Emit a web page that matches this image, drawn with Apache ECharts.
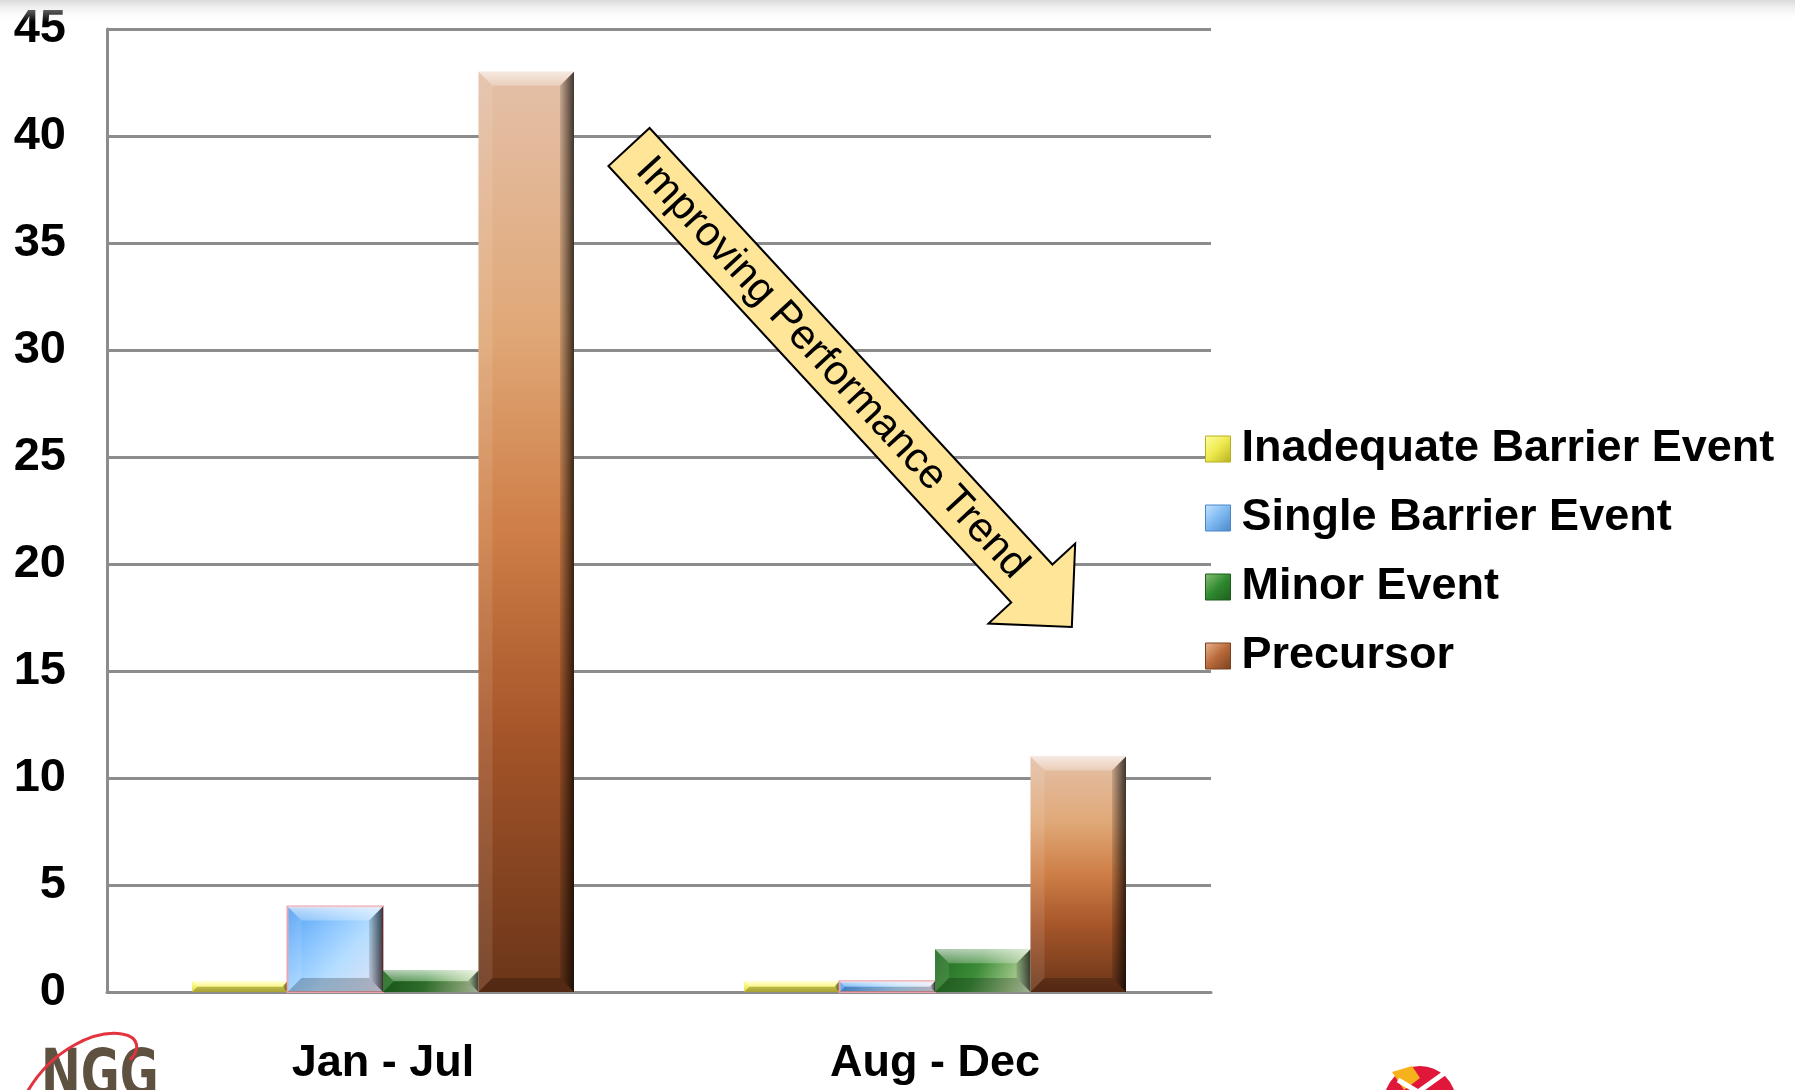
<!DOCTYPE html>
<html>
<head>
<meta charset="utf-8">
<title>Event counts by period</title>
<script src="https://cdn.jsdelivr.net/npm/echarts@6/dist/echarts.min.js"></script>
<style>
  html, body { margin: 0; padding: 0; background: #ffffff; }
  #chart { width: 1795px; height: 1090px; }
</style>
</head>
<body>
<div id="chart"></div>
<script>
// Periods on the category axis
const categories = ['Jan - Jul', 'Aug - Dec'];

// Event counts per period
const inadequateBarrier = [0.5, 0.5];
const singleBarrier = [4, 0.5];
const minorEvent = [1, 2];
const precursor = [43, 11];

// Series names, in legend order
const seriesNames = ['Inadequate Barrier Event', 'Single Barrier Event', 'Minor Event', 'Precursor'];

// Value axis range
const yMin = 0;
const yMax = 45;
const yStep = 5;

const FONT = "'Liberation Sans', Arial, sans-serif";

function lin(x2, y2, stops) {
  return new echarts.graphic.LinearGradient(0, 0, x2, y2,
    stops.map(s => ({ offset: s[0], color: s[1] })));
}

// Face fills for each series
const fills = [
  lin(0, 1, [[0, '#FFFF86'], [0.5, '#F4F060'], [1, '#D8D040']]),
  lin(1, 1, [[0, '#4E9EF2'], [0.35, '#8CC6FF'], [0.6, '#B6DEFF'], [1, '#E6E2F2']]),
  lin(1, 1, [[0, '#1E6A1E'], [0.45, '#3C8C38'], [0.8, '#9CC486'], [1, '#CFE2C0']]),
  lin(0, 1, [[0, '#E4C0A8'], [0.28, '#E0A878'], [0.5, '#CE7E46'], [0.72, '#A55529'], [1, '#6A3519']])
];
const edgeStrokes = [null, '#E7A2AC', null, null];

// Share of each category band taken by its cluster of four bars
const CLUSTER = 0.692;

// Draws one bevelled bar of a 4-bar cluster through the axis scales
function bevelBar(slot) {
  return function (params, api) {
    const cat = api.value(0);
    const val = api.value(1);
    const base = api.coord([cat, 0]);
    const top = api.coord([cat, val]);
    const band = api.size([1, 0])[0];
    const w = band * CLUSTER / 4;
    const x = base[0] - 2 * w + slot * w;
    const y = top[1];
    const h = base[1] - top[1];
    const b = Math.min(14, h / 2, w / 2);
    const faceStyle = { fill: fills[slot] };
    if (edgeStrokes[slot]) { faceStyle.stroke = edgeStrokes[slot]; faceStyle.lineWidth = 2; }
    return {
      type: 'group',
      children: [
        { type: 'rect', shape: { x: x, y: y, width: w, height: h }, style: faceStyle },
        { type: 'polygon', shape: { points: [[x, y], [x + w, y], [x + w - b, y + b], [x + b, y + b]] },
          style: { fill: lin(0, 1, [[0, 'rgba(255,255,255,0.65)'], [1, 'rgba(255,255,255,0.25)']]) } },
        { type: 'polygon', shape: { points: [[x, y], [x + b, y + b], [x + b, y + h - b], [x, y + h]] },
          style: { fill: 'rgba(255,255,255,0.10)' } },
        { type: 'polygon', shape: { points: [[x + w, y], [x + w, y + h], [x + w - b, y + h - b], [x + w - b, y + b]] },
          style: { fill: lin(1, 0, [[0, 'rgba(0,0,0,0.12)'], [1, 'rgba(0,0,0,0.72)']]) } },
        { type: 'polygon', shape: { points: [[x, y + h], [x + w, y + h], [x + w - b, y + h - b], [x + b, y + h - b]] },
          style: { fill: 'rgba(0,0,0,0.22)' } }
      ]
    };
  };
}

const seriesValues = [inadequateBarrier, singleBarrier, minorEvent, precursor];
const legendColors = ['#EDE84E', '#7DB8F0', '#2F8A2F', '#B8693A'];

// Legend swatches drawn as small bevelled squares
const legendColorsDark = ['#B8B020', '#4A86C8', '#1D5E1D', '#7A4020'];
const legendColorsLight = ['#FFFFA0', '#C8E4FF', '#8CC078', '#E8B890'];

const series = seriesNames.map((name, i) => ({
  name: name,
  type: 'custom',
  renderItem: bevelBar(i),
  encode: { x: 0, y: 1 },
  itemStyle: { color: legendColors[i] },
  data: seriesValues[i].map((v, c) => [c, v])
}));

// Trend arrow: tail centre, direction and size in pixels
const arrowX = 629, arrowY = 147;
const arrowAngle = 47.3 * Math.PI / 180;
const arrowLen = 653, shaftHalf = 28, headLen = 59, headHalf = 59;

const chart = echarts.init(document.getElementById('chart'), null, { renderer: 'canvas' });
chart.setOption({
  animation: false,
  backgroundColor: '#ffffff',
  textStyle: { fontFamily: FONT },
  grid: { left: 107, right: 584, top: 29, bottom: 98, containLabel: false },
  legend: {
    orient: 'vertical',
    left: 1205,
    top: 424,
    padding: 0,
    itemWidth: 25,
    itemHeight: 26,
    itemGap: 19,
    icon: 'rect',
    textStyle: { fontSize: 45, fontWeight: 'bold', color: '#000', fontFamily: FONT, lineHeight: 50, padding: [0, 0, 0, 6] },
    data: seriesNames.map((n, i) => ({
      name: n,
      itemStyle: {
        color: lin(1, 1, [[0, legendColorsLight[i]], [0.5, legendColors[i]], [1, legendColorsDark[i]]]),
        borderColor: legendColorsDark[i], borderWidth: 1
      }
    }))
  },
  xAxis: {
    type: 'category',
    data: categories,
    axisLine: { show: true, lineStyle: { color: '#8C8C8C', width: 3 } },
    axisTick: { show: false },
    axisLabel: { fontSize: 45, fontWeight: 'bold', color: '#000', margin: 49, lineHeight: 45, fontFamily: FONT },
    splitLine: { show: false }
  },
  yAxis: {
    type: 'value',
    min: yMin,
    max: yMax,
    interval: yStep,
    axisLine: { show: true, lineStyle: { color: '#8C8C8C', width: 3 } },
    axisTick: { show: false },
    axisLabel: { fontSize: 47, fontWeight: 'bold', color: '#000', margin: 41, fontFamily: FONT },
    splitLine: { show: true, lineStyle: { color: '#8C8C8C', width: 3 } }
  },
  series: series,
  graphic: [
    // faint shade along the top edge
    { type: 'rect', z: 1, silent: true, shape: { x: 0, y: 0, width: 1795, height: 22 },
      style: { fill: lin(0, 1, [[0, 'rgba(205,205,205,0.75)'], [1, 'rgba(255,255,255,0)']]) } },
    // trend arrow with caption
    {
      type: 'group', z: 100, x: arrowX, y: arrowY, rotation: -arrowAngle,
      children: [
        { type: 'polygon', z: 100, shape: { points: [
            [0, -shaftHalf], [arrowLen - headLen, -shaftHalf], [arrowLen - headLen, -headHalf],
            [arrowLen, 0], [arrowLen - headLen, headHalf], [arrowLen - headLen, shaftHalf], [0, shaftHalf]] },
          style: { fill: '#FFE597', stroke: '#000', lineWidth: 2 } },
        { type: 'text', z: 101, x: 300, y: 1,
          style: { text: 'Improving Performance Trend', fontSize: 42, fontFamily: FONT, fill: '#000',
                   align: 'center', verticalAlign: 'middle' } }
      ]
    },
    // NGG mark, bottom left
    { type: 'text', z: 50, x: 41, y: 1046, scaleX: 0.8,
      style: { text: 'NGG', fontSize: 66, fontWeight: 'bold', fill: '#5E5140',
               fontFamily: "'Liberation Sans Narrow', 'DejaVu Sans Condensed', sans-serif" } },
    { type: 'bezierCurve', z: 51,
      shape: { x1: 26, y1: 1094, cpx1: 52, cpy1: 1048, cpx2: 96, cpy2: 1030, x2: 122, y2: 1034 },
      style: { fill: null, stroke: '#E2333F', lineWidth: 3 } },
    { type: 'bezierCurve', z: 51,
      shape: { x1: 122, y1: 1034, cpx1: 140, cpy1: 1037, cpx2: 140, cpy2: 1050, x2: 130, y2: 1060 },
      style: { fill: null, stroke: '#E2333F', lineWidth: 3 } },
    // round mark, bottom right
    { type: 'circle', z: 50, shape: { cx: 1420, cy: 1102, r: 36 }, style: { fill: '#E0173A' } },
    { type: 'polygon', z: 51, shape: { points: [[1392, 1072], [1412, 1066], [1420, 1078], [1404, 1090]] }, style: { fill: '#F7B21B' } },
    { type: 'polyline', z: 52, shape: { points: [[1398, 1080], [1418, 1092], [1446, 1072]] },
      style: { stroke: '#ffffff', lineWidth: 5, fill: null } }
  ]
});
</script>
</body>
</html>
